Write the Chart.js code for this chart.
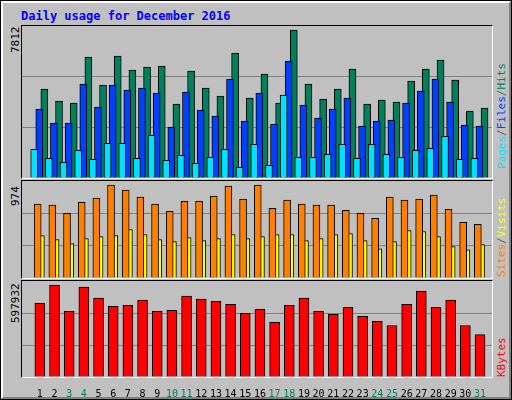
<!DOCTYPE html>
<html>
<head>
<meta charset="utf-8">
<script src="https://cdn.jsdelivr.net/npm/chart.js@4.4.0/dist/chart.umd.min.js"></script>
<style>
  body { margin: 0; background: #fff; }
  #wrap { position: relative; width: 510px; height: 398px; background: #c0c0c0;
          border: 1px solid #000; overflow: hidden; font-family: "DejaVu Sans Mono", monospace; }
  #bevel { position: absolute; left: 0; top: 0; width: 506px; height: 394px;
           border: 2px solid; border-color: #fff #808080 #808080 #fff; }
  .panel { position: absolute; left: 20px; width: 470px; border: 1px solid;
           border-color: #000 #fff #fff #000; }
  canvas { position: absolute; }
  .up { position: absolute; transform-origin: 0 0; transform: rotate(-90deg);
        font-size: 11px; white-space: nowrap; }
  #title { position: absolute; left: 20px; top: 8px; color: #0000ff; font-size: 12px; font-weight: bold; }
</style>
</head>
<body>
<div id="wrap">
  <div id="bevel"></div>
  <div id="title">Daily usage for December 2016</div>
  <div class="panel" style="top:24px;height:152px"></div>
  <div class="panel" style="top:179px;height:97px"></div>
  <div class="panel" style="top:279px;height:96px"></div>
  <canvas id="c1" style="left:21px;top:25px;width:470px;height:152px"></canvas>
  <canvas id="c2" style="left:21px;top:180px;width:470px;height:97px"></canvas>
  <canvas id="c3" style="left:21px;top:280px;width:470px;height:118px"></canvas>
  <div class="up" style="left:8px;top:52px;color:#000">7812</div>
  <div class="up" style="left:8px;top:205px;color:#000">974</div>
  <div class="up" style="left:8px;top:322px;color:#000">597932</div>
  <div class="up" style="left:494px;top:168px"><span style="color:#00e0ff">Pages</span><span style="color:#606060">/</span><span style="color:#0040ff">Files</span><span style="color:#606060">/</span><span style="color:#00805c">Hits</span></div>
  <div class="up" style="left:494px;top:276px"><span style="color:#ff8000">Sites</span><span style="color:#606060">/</span><span style="color:#ffff00">Visits</span></div>
  <div class="up" style="left:494px;top:376px"><span style="color:#ff0000">KBytes</span></div>
</div>
<script>
const days = [];
for (let d = 1; d <= 31; d++) days.push(d);
const weekend = [3, 4, 10, 11, 17, 18, 24, 25, 31];

const hits = [4568, 3950, 3847, 6216, 4774, 6268, 5547, 5701, 5753, 3796, 5495, 4620, 4208, 6422, 4105, 5341,
  3847, 7607, 4826, 4053, 4568, 5598, 3796, 4002, 3899, 4980, 5598, 6062, 5032, 3435, 3590];
const files = [3538, 2817, 2817, 4826, 3641, 4774, 4517, 4620, 4362, 2611, 4414, 3487, 3178, 5083, 2920, 4362,
  2766, 6010, 3744, 3075, 3538, 4105, 2663, 2920, 2972, 3847, 4465, 5083, 3899, 2714, 2663];
const pages = [1478, 1015, 809, 1427, 963, 1787, 1787, 1015, 2199, 912, 1169, 757, 1066, 1478, 551, 1736,
  654, 4259, 1066, 1066, 1221, 1736, 1015, 1736, 1221, 1066, 1427, 1530, 2148, 963, 1015];
const sites = [741, 731, 650, 761, 802, 934, 883, 812, 741, 670, 771, 771, 822, 924, 792, 934,
  700, 782, 741, 731, 731, 680, 650, 599, 812, 782, 792, 832, 690, 558, 538];
const visits = [426, 386, 345, 396, 416, 426, 487, 436, 386, 365, 406, 376, 396, 436, 396, 416,
  436, 436, 376, 396, 436, 447, 376, 294, 365, 477, 467, 416, 315, 284, 335];
const kbytes = [459462, 572754, 409110, 560166, 490932, 440580, 446874, 478344, 409110, 415404, 503520, 484638,
  472050, 453168, 396522, 421698, 339876, 446874, 490932, 409110, 390228, 434286, 377640, 346170, 320994,
  453168, 534990, 434286, 478344, 320994, 264348];
const yMax = [7812, 974, 597932];

function pts(vals, off) {
  return vals.map((v, i) => ({ x: days[i] + off, y: v }));
}
function bars(vals, off, color, w) {
  return { data: pts(vals, off), backgroundColor: color, borderColor: '#000', borderWidth: 1,
           barThickness: w, borderSkipped: 'bottom' };
}
function opts(max, showX) {
  const x = { type: 'linear', min: 0.3, max: 31.3, display: showX, grid: { display: false }, border: { display: false },
           afterBuildTicks: s => { s.ticks = days.map(d => ({ value: d })); },
           ticks: { autoSkip: false, maxRotation: 0, padding: 3, color: c => weekend.includes(c.tick.value) ? '#00805c' : '#000',
                    font: { family: 'DejaVu Sans Mono', size: 10 } } };
  if (showX) x.afterFit = s => { s.height = 22; };
  return {
    responsive: false, animation: false, events: [],
    layout: { padding: 0 },
    plugins: { legend: { display: false }, tooltip: { enabled: false } },
    scales: {
      x: x,
      y: { min: 0, max: max, afterFit: s => { s.width = 0; }, border: { display: false },
           ticks: { display: false, stepSize: max / 3 },
           grid: { color: c => (c.tick.value > 0 && c.tick.value < max) ? '#808080' : 'rgba(0,0,0,0)', drawTicks: false, lineWidth: 1 } }
    }
  };
}
function make(id, w, h, datasets, max, showX) {
  const cv = document.getElementById(id);
  cv.width = w; cv.height = h;
  return new Chart(cv, { type: 'bar', data: { datasets: datasets }, options: opts(max, showX) });
}

make('c1', 470, 152, [
  bars(pages, 0.09, '#00e0ff', 7),
  bars(files, -0.04, '#0040ff', 7),
  bars(hits, -0.17, '#00805c', 7)
], yMax[0], false);
make('c2', 470, 97, [
  bars(sites, 0.09, '#ff8000', 7),
  bars(visits, -0.17, '#ffff00', 7)
], yMax[1], false);
make('c3', 470, 118, [
  bars(kbytes, 0, '#ff0000', 10)
], yMax[2], true);
</script>
</body>
</html>
